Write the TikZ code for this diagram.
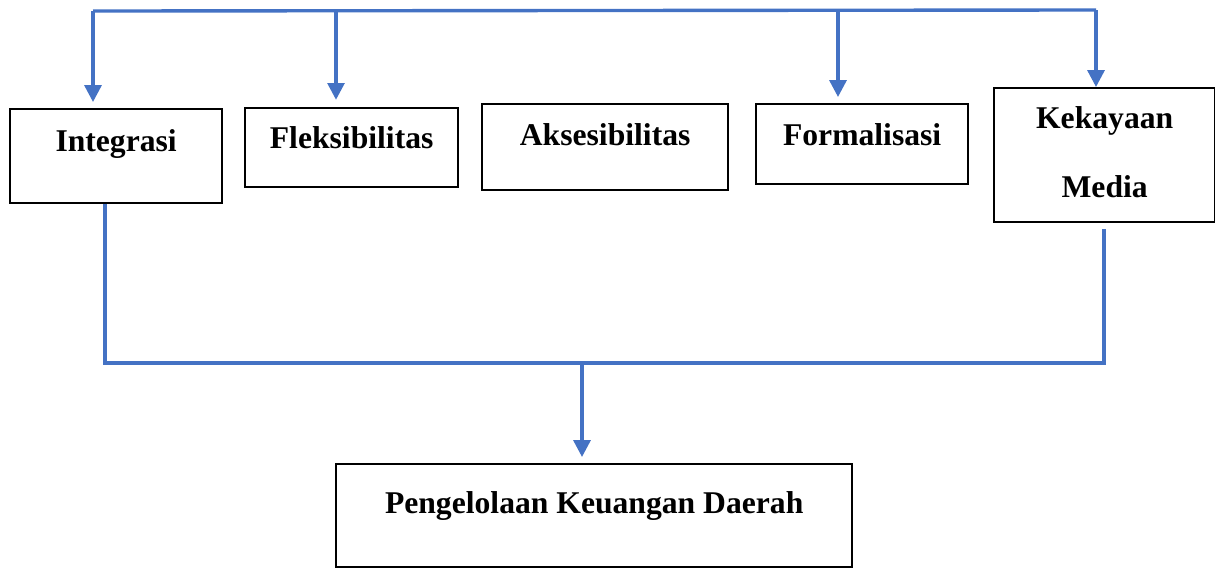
\documentclass[tikz,border=0pt]{standalone}
\usepackage{fontspec}
\setmainfont{Liberation Serif}
\usetikzlibrary{arrows.meta}
\definecolor{lineblue}{HTML}{4472C4}
\tikzset{
    factorbox/.style={draw, line width=1.6pt, inner sep=0pt, anchor=north west, align=center, font=\fontsize{22.5}{49}\selectfont\bfseries},
    flowline/.style={draw=lineblue, line width=2.4pt},
    flowarrow/.style={flowline, -{Triangle[length=4.2mm, width=4.2mm]}}
}
\begin{document}
\begin{tikzpicture}[x=0.025cm, y=-0.025cm]
    \useasboundingbox (0,0) rectangle (1215,568);
    % faktor
    \node[factorbox, minimum width=5.3cm, text height=1.05cm, text depth=1.3cm] (integrasi) at (9,108) {Integrasi};
    \node[factorbox, minimum width=5.325cm, text height=1.0cm, text depth=0.975cm] (fleksibilitas) at (244,107) {Fleksibilitas};
    \node[factorbox, minimum width=6.15cm, text height=1.025cm, text depth=1.125cm] (aksesibilitas) at (481,103) {Aksesibilitas};
    \node[factorbox, minimum width=5.3cm, text height=1.025cm, text depth=0.975cm] (formalisasi) at (755,103) {Formalisasi};
    \node[factorbox, minimum width=5.525cm, text height=2.725cm, text depth=0.625cm] (kekayaan) at (993,87) {Kekayaan\\Media};
    \node[factorbox, minimum width=12.9cm, text height=1.225cm, text depth=1.35cm] (pengelolaan) at (335,463) {Pengelolaan Keuangan Daerah};
    % garis atas
    \coordinate (tapInt) at (93,11);
    \coordinate (tapFlek) at (336,11);
    \coordinate (tapForm) at (838,10);
    \coordinate (tapKek) at (1096,10);
    \draw[flowline] (tapInt) -- (tapKek);
    \draw[flowarrow, shorten >=0.15cm] (tapInt) -- (tapInt |- integrasi.north);
    \draw[flowarrow, shorten >=0.18cm] (tapFlek) -- (tapFlek |- fleksibilitas.north);
    \draw[flowarrow, shorten >=0.15cm] (tapForm) -- (tapForm |- formalisasi.north);
    \draw[flowarrow] (tapKek) -- (tapKek |- kekayaan.north);
    % garis bawah
    \coordinate (joinL) at (105,363);
    \coordinate (joinR) at (1104,363);
    \coordinate (joinM) at (582,363);
    \draw[flowline, shorten >=0.15cm] (integrasi.south -| joinL) |- (joinR) -- (kekayaan.south -| joinR);
    \draw[flowarrow, shorten >=0.15cm] (joinM) -- (joinM |- pengelolaan.north);
\end{tikzpicture}
\end{document}
